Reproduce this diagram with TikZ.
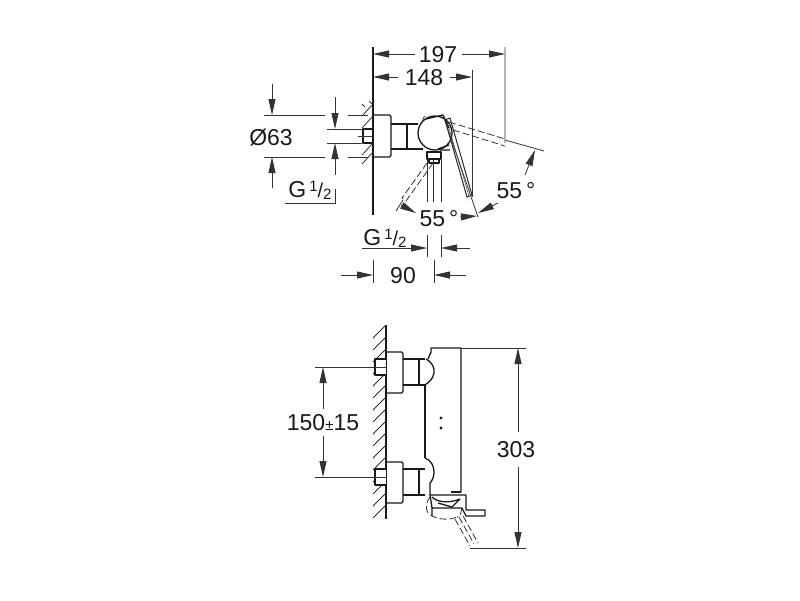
\documentclass[tikz,border=0pt]{standalone}
\usepackage{fontspec}
\setmainfont{Liberation Sans}
\usetikzlibrary{arrows.meta}
\newcommand{\dimfont}{\fontsize{23}{23}\selectfont}
\newcommand{\gthread}{G\hspace{3pt}\raisebox{6pt}{\fontsize{15}{15}\selectfont 1}{\fontsize{20}{20}\selectfont /}\raisebox{-2pt}{\fontsize{15}{15}\selectfont 2}}
\tikzset{
	thin line/.style={line width=0.8pt,black!80},
	part/.style={line width=1.3pt,black!90,line join=round},
	hidden/.style={line width=0.8pt,black!80,dash pattern=on 7pt off 3pt},
	dim/.style={thin line,-{Triangle[length=16pt,width=7pt]}},
	label/.style={inner sep=0pt,font=\dimfont,text=black!90},
}
\begin{document}
\begin{tikzpicture}[x=1pt,y=-1pt]
	\useasboundingbox (0,0) rectangle (800,600);
	% side view, wall
	\draw[part] (373,47) -- (373,215);
	\foreach \y in {104,116,143,152}
		\draw[thin line] (373,\y) -- (362,\y+12);
	\draw[thin line] (365,107) -- (362,104) (372,104) -- (369,101);
	% side view, body
	\draw[part,rounded corners=1.5pt] (373,115) -- (391,115) -- (391,157) -- (373,157);
	\draw[part] (391,124) -- (418,124) (391,149) -- (423,149) (407,124) -- (407,149);
	\draw[part] (373,129) -- (363,129) -- (363,143) -- (373,143);
	\draw[thin line] (358,136) -- (373,136);
	\draw[part] (435,133) circle (17);
	\draw[part] (426,119) -- (443,115) -- (449,128);
	\draw[line width=1pt,black!85] (445,120) -- (450,118) -- (472,195) -- (467,197) -- cycle;
	\draw[line width=0.5pt,black!70] (449,128) -- (469,196);
	\draw[part] (438,149) -- (449,145) (440,150) -- (450,150);
	\draw[part] (427,152) rectangle (441,159);
	\draw[part] (429,159) rectangle (439,163);
	% side view, turned lever
	\draw[hidden] (449,122) -- (505,139) -- (505,143);
	\draw[hidden] (453,130) -- (505,146);
	\draw[hidden] (422,122) -- (424,117) -- (428,116);
	\draw[hidden] (427,163) -- (402,198);
	\draw[hidden] (433,163) -- (406,201) -- (402,198);
	% side view, dimensions
	\draw[thin line] (505,47) -- (505,140) -- (544,151);
	\draw[thin line] (472,70) -- (472,197);
	\draw[thin line] (443,115) -- (478,217);
	\draw[thin line] (264,115) -- (325,115) (348,115) -- (368,115);
	\draw[thin line] (264,157) -- (325,157) (348,157) -- (368,157);
	\draw[thin line] (327,129) -- (362,129) (327,143) -- (362,143);
	\draw[thin line] (285,203) -- (335,203) -- (335,189);
	\foreach \x in {427,433.5,441}
		\draw[thin line] (\x,160) -- (\x,202);
	\draw[thin line] (427,235) -- (427,257) (441,235) -- (441,257);
	\draw[thin line] (373,260) -- (373,283) (434,260) -- (434,283);
	\draw[dim] (415,54) -- (373,54);
	\draw[dim] (462,54) -- (505,54);
	\draw[dim] (398,77) -- (373,77);
	\draw[dim] (450,77) -- (472,77);
	\draw[dim] (272,84) -- (272,115);
	\draw[dim] (272,188) -- (272,157);
	\draw[dim] (335,97) -- (335,129);
	\draw[dim] (335,175) -- (335,143);
	\draw[dim] (525,175) -- (535,150);
	\draw[dim] (498,203) -- (478,213);
	\draw[dim] (460,217) -- (477,216);
	\draw[thin line] (396,211) -- (403,200);
	\draw[dim] (401,205) -- (416,213);
	\draw[dim] (362,248) -- (427,248);
	\draw[dim] (470,248) -- (441,248);
	\draw[dim] (341,275) -- (373,275);
	\draw[dim] (466,275) -- (434,275);
	\node[label] (dimA) at (438,55) {197};
	\node[label] (dimB) at (424,78) {148};
	\node[label] (dimC) at (271,138) {Ø63};
	\node[label] (dimD) at (310,190) {\gthread};
	\node[label] (angA) at (516,191) {55\,°};
	\node[label] (angB) at (439,219) {55\,°};
	\node[label] (dimE) at (385,238) {\gthread};
	\node[label] (dimF) at (403,276) {90};
	% front view, wall
	\draw[part] (386,325) -- (386,519);
	\foreach \y in {325,337,...,505}
		\draw[thin line] (386,\y) -- (373,\y+13);
	% front view, valves
	\foreach \y in {0,110}{
		\draw[part,rounded corners=1.5pt] (386,352+\y) -- (403,352+\y) -- (403,393+\y) -- (386,393+\y);
		\draw[part] (403,359+\y) -- (425,359+\y) (403,385+\y) -- (425,385+\y) (419,359+\y) -- (419,385+\y);
		\draw[part,fill=white] (386,359+\y) -- (375,359+\y) -- (375,375+\y) -- (386,375+\y);
	}
	\draw[part] (426,359) .. controls (432,362) and (435,368) .. (434,373) .. controls (433,379) and (429,382) .. (425,385);
	\draw[part] (425,458) .. controls (431,460) and (434,466) .. (434,472) .. controls (434,477) and (432,481) .. (430,483);
	% front view, body
	\draw[part] (428,359) -- (431,352) -- (431,348) -- (461,348) -- (461,492);
	\draw[part] (425,385) -- (425,458);
	\draw[part] (430,483) -- (430,495) -- (466,495) -- (466,510) -- (485,510) -- (485,516) -- (466,516) -- (462,508) -- (432,508) -- (430,495) (432,508) -- (432,516);
	\draw[part] (451,492) -- (461,492);
	\draw[part] (432,497) .. controls (438,503) and (450,503) .. (460,499) (438,503) -- (452,507) -- (460,499);
	\fill[black!90] (441,418) circle (1.6) (441,428) circle (1.6);
	% front view, spout
	\draw[hidden] (430,497) .. controls (424,505) and (426,514) .. (432,516) .. controls (440,520) and (450,520) .. (457,517);
	\draw[hidden] (462,508) -- (460,516) -- (457,517);
	\draw[hidden] (455,519) -- (470,546);
	\draw[hidden] (459,517) -- (474,544);
	\draw[hidden] (463,516) -- (478,543);
	% front view, dimensions
	\draw[thin line] (461,348) -- (526,348);
	\draw[thin line] (470,548) -- (526,548);
	\draw[thin line] (315,367) -- (386,367);
	\draw[thin line] (315,477) -- (386,477);
	\draw[dim] (323,409) -- (323,367);
	\draw[dim] (323,436) -- (323,477);
	\draw[dim] (518,432) -- (518,348);
	\draw[dim] (518,467) -- (518,548);
	\node[label] (dimG) at (323,423) {150{\fontsize{15}{15}\selectfont ±}15};
	\node[label] (dimH) at (516,450) {303};
\end{tikzpicture}
\end{document}
